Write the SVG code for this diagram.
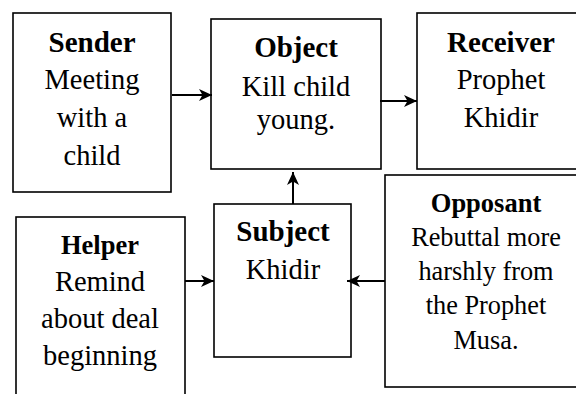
<svg xmlns="http://www.w3.org/2000/svg" width="576" height="394" viewBox="0 0 576 394">
  <defs>
    <style>
      .box { fill: #ffffff; stroke: #000000; stroke-width: 1.6; }
      .t { fill: #000000; text-anchor: middle; }
      .h { font-weight: bold; }
      .link { stroke: #000000; stroke-width: 2; fill: none; marker-end: url(#arrow); }
    </style>
    <marker id="arrow" markerUnits="userSpaceOnUse" markerWidth="14" markerHeight="12" refX="13" refY="6" orient="auto">
      <path d="M0,0 L13,6 L0,12 L3.5,6 Z" fill="#000000"/>
    </marker>
  </defs>

  <rect width="576" height="394" fill="#ffffff"/>

  <g font-family="'Liberation Serif', 'Times New Roman', 'DejaVu Serif', serif">
  <!-- Sender -->
  <g id="sender">
    <rect class="box" x="13" y="13" width="158" height="179"/>
    <text class="t h" x="92" y="52" font-size="29">Sender</text>
    <text class="t" x="92" y="89" font-size="28.5">Meeting</text>
    <text class="t" x="92" y="127" font-size="28.5">with a</text>
    <text class="t" x="92" y="165" font-size="28.5">child</text>
  </g>

  <!-- Object -->
  <g id="object">
    <rect class="box" x="211" y="19" width="170" height="150"/>
    <text class="t h" x="296" y="57" font-size="29">Object</text>
    <text class="t" x="296" y="96" font-size="28.5">Kill child</text>
    <text class="t" x="296" y="129" font-size="28.5">young.</text>
  </g>

  <!-- Receiver -->
  <g id="receiver">
    <rect class="box" x="417" y="13" width="170" height="156"/>
    <text class="t h" x="501" y="52" font-size="29">Receiver</text>
    <text class="t" x="501" y="89" font-size="28.5">Prophet</text>
    <text class="t" x="501" y="127" font-size="28.5">Khidir</text>
  </g>

  <!-- Helper -->
  <g id="helper">
    <rect class="box" x="16" y="217" width="169" height="190"/>
    <text class="t h" x="100" y="254" font-size="26.5">Helper</text>
    <text class="t" x="100" y="291" font-size="28.5">Remind</text>
    <text class="t" x="100" y="328" font-size="28.5">about deal</text>
    <text class="t" x="100" y="365" font-size="28.5">beginning</text>
  </g>

  <!-- Subject -->
  <g id="subject">
    <rect class="box" x="214" y="204" width="137" height="153"/>
    <text class="t h" x="283" y="241" font-size="29">Subject</text>
    <text class="t" x="283" y="279" font-size="28.5">Khidir</text>
  </g>

  <!-- Opposant -->
  <g id="opposant">
    <rect class="box" x="385" y="175" width="200" height="212"/>
    <text class="t h" x="486" y="212" font-size="26.5">Opposant</text>
    <text class="t" x="486" y="246" font-size="26.3">Rebuttal more</text>
    <text class="t" x="486" y="280" font-size="26.3">harshly from</text>
    <text class="t" x="486" y="314" font-size="26.3">the Prophet</text>
    <text class="t" x="486" y="349" font-size="26.3">Musa.</text>
  </g>
  </g>

  <!-- Connectors -->
  <g id="connectors">
    <line class="link" x1="172" y1="95" x2="212" y2="95"/>
    <line class="link" x1="380" y1="101" x2="417" y2="101"/>
    <line class="link" x1="293" y1="204" x2="293" y2="172"/>
    <line class="link" x1="185" y1="281" x2="214" y2="281"/>
    <line class="link" x1="385" y1="281" x2="347" y2="281"/>
  </g>
</svg>
